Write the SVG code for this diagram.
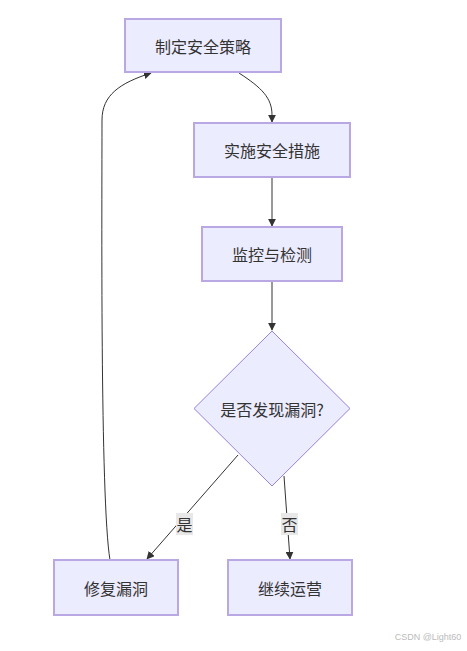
<svg xmlns="http://www.w3.org/2000/svg" width="467" height="651" viewBox="0 0 467 651">
<style>
.node rect,.node polygon{fill:#ECECFF;stroke:#B9A8E3;stroke-width:2}
.node polygon{stroke:#9A80D8;stroke-width:1}
.t{font-family:"Noto Sans CJK SC","Noto Sans",sans-serif;font-size:16px;fill:#333;text-anchor:middle;dominant-baseline:central}
.edge{fill:none;stroke:#333;stroke-width:1}
.lbl rect{fill:#e8e8e8}
</style>
<defs>
<marker id="arr" viewBox="0 0 10 10" refX="9" refY="5" markerWidth="8" markerHeight="8" markerUnits="userSpaceOnUse" orient="auto">
<path d="M0,0 L10,5 L0,10 z" fill="#333"/>
</marker>
</defs>
<rect width="467" height="651" fill="#fff"/>
<g id="connectors">
<path class="edge" d="M239,73 C262,88 272,98 272,115 L272,122" marker-end="url(#arr)"/>
<path class="edge" d="M272,177 L272,226" marker-end="url(#arr)"/>
<path class="edge" d="M272,281 L272,330" marker-end="url(#arr)"/>
<path class="edge" d="M238,455 L147,559" marker-end="url(#arr)"/>
<path class="edge" d="M284,476 L290,559" marker-end="url(#arr)"/>
<path class="edge" d="M110,560 C100,500 102,200 102,120 C102,95 120,83 151,73" marker-end="url(#arr)"/>
<g class="lbl"><rect x="176" y="513" width="17" height="22"/><text class="t" x="184.5" y="524">是</text></g>
<g class="lbl"><rect x="281" y="513" width="17" height="22"/><text class="t" x="289.5" y="524">否</text></g>
</g>
<g id="A" class="node"><rect x="125" y="19" width="156" height="53"/><text class="t" x="203" y="45.5">制定安全策略</text></g>
<g id="B" class="node"><rect x="194" y="123" width="156" height="54"/><text class="t" x="272" y="150">实施安全措施</text></g>
<g id="C" class="node"><rect x="202" y="227" width="140" height="54"/><text class="t" x="272" y="254">监控与检测</text></g>
<g id="D" class="node"><polygon points="272,331 350,408.5 272,486 194,408.5"/><text class="t" x="272" y="408.5">是否发现漏洞?</text></g>
<g id="E" class="node"><rect x="54" y="560" width="124" height="55"/><text class="t" x="116" y="587.5">修复漏洞</text></g>
<g id="F" class="node"><rect x="228" y="560" width="124" height="55"/><text class="t" x="290" y="587.5">继续运营</text></g>
<text x="428" y="640" style="font-family:'Liberation Sans',sans-serif;font-size:9px;fill:#bbb;text-anchor:middle">CSDN @Light60</text>
</svg>
